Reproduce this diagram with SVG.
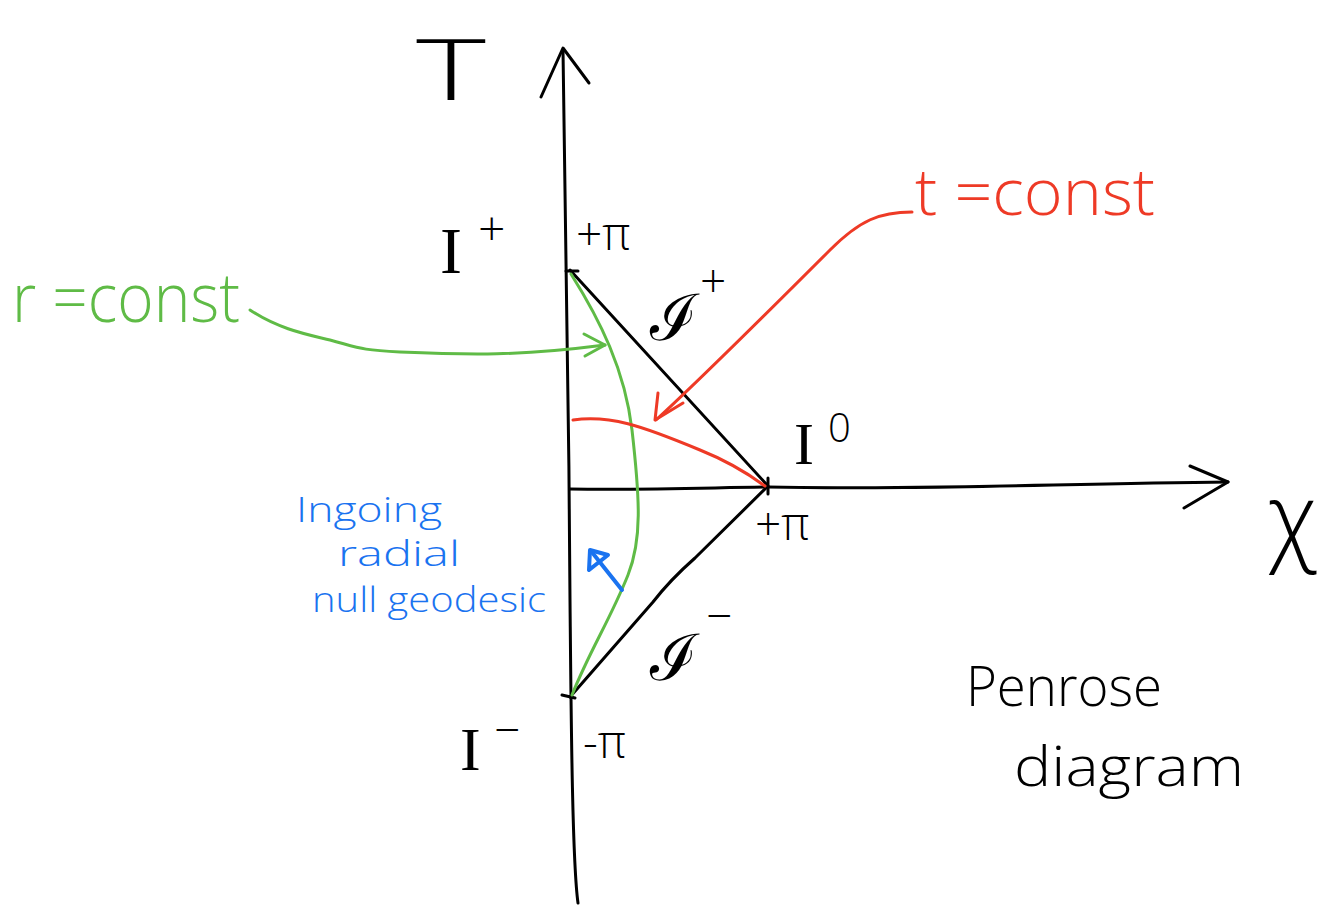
<svg xmlns="http://www.w3.org/2000/svg" width="1328" height="907" viewBox="0 0 1328 907">
<style>
.ink{fill:none;stroke:#000;stroke-width:3;stroke-linecap:round;stroke-linejoin:round}
.g{fill:none;stroke:#5fbb46;stroke-width:3;stroke-linecap:round;stroke-linejoin:round}
.r{fill:none;stroke:#ee3a26;stroke-width:3;stroke-linecap:round;stroke-linejoin:round}
.b{fill:none;stroke:#1a73f0;stroke-width:4;stroke-linecap:round;stroke-linejoin:round}
text{font-family:"Open Sans","Liberation Sans","DejaVu Sans",sans-serif;font-weight:300}
.serif{font-family:"Liberation Serif","DejaVu Serif",serif;font-weight:400}
.tk{fill:#000}
.tg{fill:#5fbb46}
.tr{fill:#ee3a26}
.tb{fill:#1a73f0}
</style>
<rect width="1328" height="907" fill="#fff"/>
<g id="axes">
<path class="ink" d="M578,903 C572,860 571,700 570,600 C569,420 566,250 563,50"/>
<path class="ink" d="M541,97 L563,48 L589,83"/>
<path class="ink" d="M570,489 C650,490 700,488 768,487 C900,490 1050,484 1228,482"/>
<path class="ink" d="M1190,466 L1228,482 L1184,508"/>
</g>
<g id="triangle">
<path class="ink" d="M570,270 L768,486 L695,558 Q670,580 653,602 L570,697"/>
<path class="ink" d="M566,271 L578,271 M768,478 L768,494 M562,695 L575,698"/>
</g>
<g id="r-const-curve">
<path class="g" d="M571,274 C600,320 625,370 632,430 C640,500 642,540 628,575 C610,620 590,650 572,695"/>
</g>
<g id="t-const-curve">
<path class="r" d="M573,420 C610,415 640,425 700,450 C730,462 750,475 765,486"/>
</g>
<g id="connectors">
<path class="g" d="M250,310 C280,330 310,335 330,340 C360,348 360,350 400,352 C470,355 520,356 605,345"/>
<path class="g" d="M584,334 L605,345 L585,356"/>
<path class="r" d="M912,212 C880,212 860,220 830,250 C780,300 700,380 656,420"/>
<path class="r" d="M658,393 L655,420 L683,403"/>
<path class="b" d="M622,590 L591,551"/>
<path class="b" d="M589,570 L590,550 L608,555 Z"/>
</g>
<g id="labels">
<text x="416" y="100" font-size="84" class="tk" textLength="70" lengthAdjust="spacingAndGlyphs">T</text>
<text x="440" y="273" font-size="66" class="tk serif">I</text>
<text x="478" y="246" font-size="48" class="tk">+</text>
<text x="576" y="250" font-size="46" class="tk">+π</text>
<text x="650" y="340" font-size="64" class="tk serif">ℐ</text>
<text x="700" y="297" font-size="46" class="tk">+</text>
<text x="794" y="464" font-size="60" class="tk serif">I</text>
<text x="828" y="442" font-size="40" class="tk">0</text>
<text x="755" y="540" font-size="46" class="tk">+π</text>
<text x="1268" y="552" font-size="96" class="tk">χ</text>
<text x="650" y="680" font-size="64" class="tk serif">ℐ</text>
<text x="706" y="632" font-size="46" class="tk">−</text>
<text x="460" y="770" font-size="62" class="tk serif">I</text>
<text x="494" y="746" font-size="46" class="tk">−</text>
<text x="583" y="758" font-size="46" class="tk">-π</text>
</g>
<g id="r-const-label">
<text x="12" y="322" font-size="68" class="tg" textLength="228" lengthAdjust="spacingAndGlyphs">r =const</text>
</g>
<g id="t-const-label">
<text x="915" y="215" font-size="64" class="tr" textLength="240" lengthAdjust="spacingAndGlyphs">t =const</text>
</g>
<g id="geodesic-label">
<text x="296" y="522" font-size="34" class="tb" textLength="146" lengthAdjust="spacingAndGlyphs">Ingoing</text>
<text x="338" y="566" font-size="34" class="tb" textLength="122" lengthAdjust="spacingAndGlyphs">radial</text>
<text x="312" y="612" font-size="34" class="tb" textLength="234" lengthAdjust="spacingAndGlyphs">null geodesic</text>
</g>
<g id="title">
<text x="966" y="706" font-size="56" class="tk" textLength="196" lengthAdjust="spacingAndGlyphs">Penrose</text>
<text x="1014" y="786" font-size="56" class="tk" textLength="230" lengthAdjust="spacingAndGlyphs">diagram</text>
</g>
</svg>
